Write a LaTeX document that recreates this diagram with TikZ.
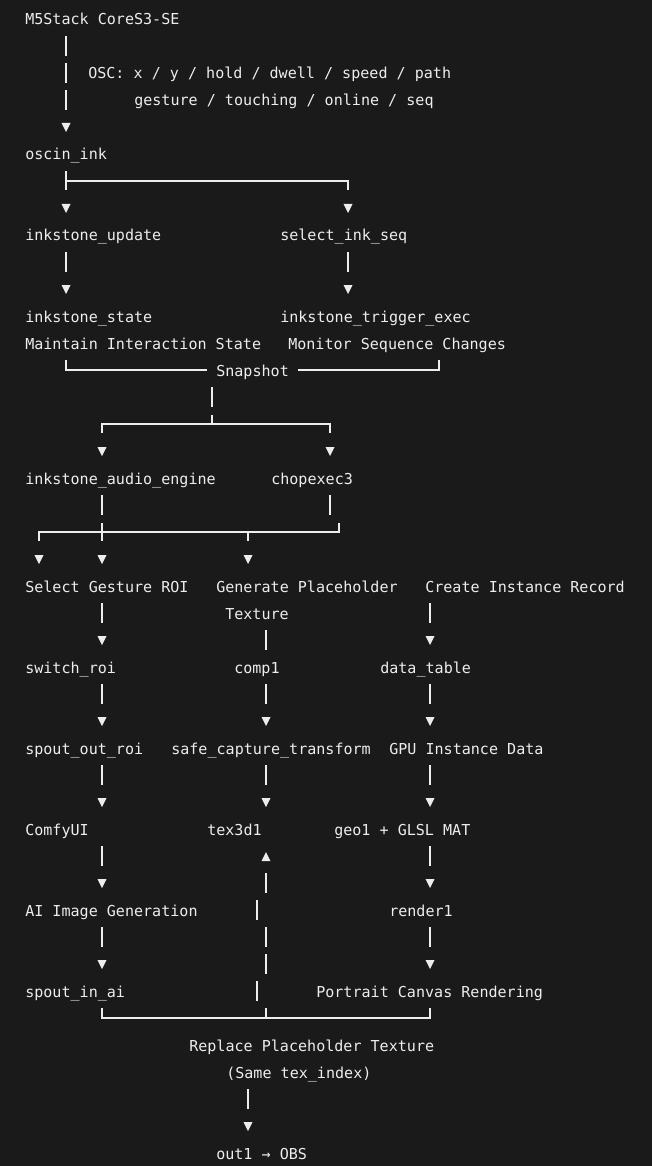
\documentclass[tikz,border=0pt]{standalone}
\usepackage{fontspec}
\setmonofont{DejaVu Sans Mono}
\definecolor{bg}{HTML}{1A1A1A}
\definecolor{fg}{HTML}{EDEDED}
\begin{document}
\begin{tikzpicture}[x=0.75pt,y=-0.75pt,
  t/.style={anchor=base west,inner sep=0pt,text=fg,font=\ttfamily\fontsize{11.3}{13}\selectfont},
  ln/.style={draw=fg,line width=0.9pt},
]
\useasboundingbox[fill=bg] (0,0) rectangle (652,1166);
\newcommand{\tdn}[2]{\fill[fg] (#1-4.5,#2-4) -- (#1+4.5,#2-4) -- (#1,#2+5) -- cycle;}
\newcommand{\tup}[2]{\fill[fg] (#1-4.5,#2+5) -- (#1+4.5,#2+5) -- (#1,#2-4) -- cycle;}
\newcommand{\vb}[2]{\draw[ln] (#1,#2-10) -- (#1,#2+10);}
% texts
\node[t] (m5) at (25,25) {M5Stack CoreS3-SE};
\node[t] (osc1) at (88,79) {OSC: x / y / hold / dwell / speed / path};
\node[t] (osc2) at (134,106) {gesture / touching / online / seq};
\node[t] (oscin) at (25,160) {oscin\_ink};
\node[t] (upd) at (25,241) {inkstone\_update};
\node[t] (sel) at (280,241) {select\_ink\_seq};
\node[t] (st) at (25,322) {inkstone\_state};
\node[t] (trig) at (280,322) {inkstone\_trigger\_exec};
\node[t] (mis) at (25,349) {Maintain Interaction State};
\node[t] (msc) at (288,349) {Monitor Sequence Changes};
\node[t] (snap) at (216,376) {Snapshot};
\node[t] (aud) at (25,484) {inkstone\_audio\_engine};
\node[t] (chop) at (271,484) {chopexec3};
\node[t] (sgr) at (25,592) {Select Gesture ROI};
\node[t] (gpt) at (216,592) {Generate Placeholder};
\node[t] (tex) at (225,619) {Texture};
\node[t] (cir) at (425,592) {Create Instance Record};
\node[t] (sw) at (25,673) {switch\_roi};
\node[t] (comp) at (234,673) {comp1};
\node[t] (dt) at (380,673) {data\_table};
\node[t] (sor) at (25,754) {spout\_out\_roi};
\node[t] (sct) at (171,754) {safe\_capture\_transform};
\node[t] (gpu) at (389,754) {GPU Instance Data};
\node[t] (comfy) at (25,835) {ComfyUI};
\node[t] (t3d) at (207,835) {tex3d1};
\node[t] (geo) at (334,835) {geo1 + GLSL MAT};
\node[t] (aig) at (25,916) {AI Image Generation};
\node[t] (rend) at (389,916) {render1};
\node[t] (sia) at (25,997) {spout\_in\_ai};
\node[t] (pcr) at (316,997) {Portrait Canvas Rendering};
\node[t] (rpt) at (189,1051) {Replace Placeholder Texture};
\node[t] (sti) at (226,1078) {(Same tex\_index)};
\node[t] (out) at (216,1159) {out1 \textrightarrow{} OBS};
% connectors
\vb{66}{46}\vb{66}{73}\vb{66}{100}\tdn{66}{127}
\draw[ln] (66,171) -- (66,190);
\draw[ln] (66,181) -- (348,181) -- (348,190);
\tdn{66}{208}\tdn{348}{208}
\vb{66}{262}\vb{348}{262}
\tdn{66}{289}\tdn{348}{289}
\draw[ln] (66,360) -- (66,370) -- (207,370);
\draw[ln] (298,370) -- (439,370) -- (439,360);
\vb{212}{397}
\draw[ln] (212,415) -- (212,424);
\draw[ln] (102,433) -- (102,424) -- (330,424) -- (330,433);
\tdn{102}{451}\tdn{330}{451}
\vb{102}{505}\vb{330}{505}
\draw[ln] (39,541) -- (39,532) -- (339,532) -- (339,523);
\draw[ln] (102,523) -- (102,541);
\draw[ln] (248,532) -- (248,541);
\tdn{39}{559}\tdn{102}{559}\tdn{248}{559}
% column A
\foreach \r in {613,694,775,856,937} {\vb{102}{\r}}
\foreach \r in {640,721,802,883,964} {\tdn{102}{\r}}
% column B
\foreach \r in {640,694,775,883,937,964} {\vb{266}{\r}}
\foreach \r in {910,991} {\vb{257}{\r}}
\foreach \r in {721,802} {\tdn{266}{\r}}
\tup{266}{856}
% column C
\foreach \r in {613,694,775,856,937} {\vb{430}{\r}}
\foreach \r in {640,721,802,883,964} {\tdn{430}{\r}}
\draw[ln] (102,1008) -- (102,1018) -- (430,1018) -- (430,1008);
\draw[ln] (266,1008) -- (266,1018);
\vb{248}{1099}\tdn{248}{1126}
\end{tikzpicture}
\end{document}
